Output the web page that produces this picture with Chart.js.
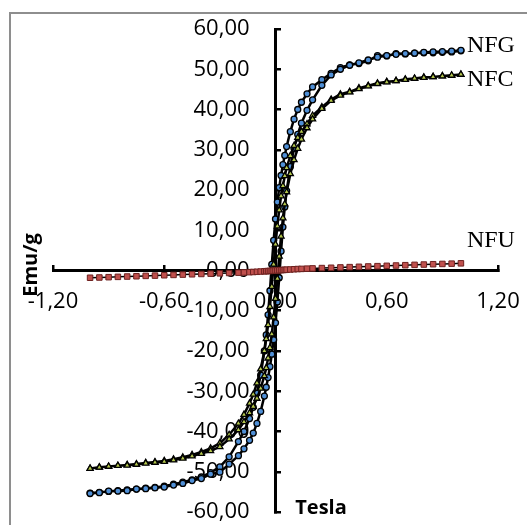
<!DOCTYPE html>
<html>
<head>
<meta charset="utf-8">
<script src="https://cdn.jsdelivr.net/npm/chart.js@4.4.1/dist/chart.umd.min.js"></script>
<style>
  html, body { margin: 0; padding: 0; background: #fff; }
  canvas { display: block; }
</style>
</head>
<body>
<canvas id="myChart" width="527" height="525"></canvas>
<script>
// field (Tesla), descending branch: +1 -> -1
var FieldDown = [1.00, 0.95, 0.90, 0.85, 0.80, 0.75, 0.70, 0.65, 0.60, 0.55, 0.50, 0.45, 0.40, 0.35, 0.30, 0.25, 0.20,
    0.17, 0.14, 0.12, 0.10, 0.08, 0.06, 0.05, 0.04, 0.03, 0.02, 0.01, 0.00,
    -0.01, -0.02, -0.03, -0.04, -0.05, -0.06, -0.08, -0.10, -0.12, -0.14, -0.17,
    -0.20, -0.25, -0.30, -0.35, -0.40, -0.45, -0.50, -0.55, -0.60, -0.65, -0.70, -0.75, -0.80, -0.85, -0.90, -0.95, -1.00];
// ascending branch uses the same fields in reverse order
var FieldUp = FieldDown.slice().reverse();

var NfgDown = [54.6, 54.3, 54.2, 54.1, 54.1, 54.0, 53.8, 53.9, 53.3, 53.4, 52.1, 51.4, 51.1, 50.4, 49.0, 47.4, 45.6,
    43.9, 41.8, 40.0, 37.6, 34.5, 30.8, 28.6, 26.3, 23.6, 20.6, 17.0, 12.8,
    7.5, 1.5, -5.0, -11.0, -16.0, -20.0, -26.0, -30.5, -34.0, -36.8, -40.0,
    -42.5, -46.3, -48.8, -50.2, -51.3, -52.0, -52.6, -53.1, -53.6, -53.9, -54.1, -54.3, -54.5, -54.7, -54.9, -55.1, -55.3];
var NfgUp = [-55.4, -55.2, -54.8, -54.8, -54.7, -54.3, -54.2, -54.0, -53.8, -53.3, -52.9, -52.2, -51.7, -50.6, -50.1, -48.1, -46.0,
    -44.3, -42.2, -40.4, -38.0, -35.0, -31.2, -29.0, -26.6, -23.9, -20.8, -17.2, -13.0,
    -7.8, -1.8, 4.8, 10.8, 15.8, 19.8, 25.8, 30.3, 33.8, 36.6, 39.8,
    42.4, 46.0, 48.6, 50.0, 51.0, 51.6, 52.3, 53.0, 53.4, 53.7, 53.9, 54.0, 54.2, 54.3, 54.4, 54.5, 54.7];

var NfcDown = [48.7, 48.4, 48.3, 48.1, 48.0, 47.7, 47.5, 47.1, 46.9, 46.5, 45.9, 45.3, 44.4, 43.8, 42.5, 40.6, 38.5,
    36.4, 34.5, 33.0, 31.0, 28.5, 25.5, 23.5, 21.0, 18.5, 15.0, 11.0, 6.5,
    1.5, -4.0, -9.0, -13.5, -17.0, -20.0, -24.5, -28.0, -30.8, -33.0, -35.8,
    -38.0, -40.8, -42.9, -44.2, -45.1, -45.8, -46.4, -46.9, -47.3, -47.6, -47.8, -48.1, -48.3, -48.5, -48.7, -48.9, -49.2];
var NfcUp = [-49.2, -48.9, -48.7, -48.5, -48.4, -48.2, -47.9, -47.7, -47.5, -47.1, -46.7, -46.1, -45.5, -44.8, -43.8, -41.9, -39.6,
    -37.6, -35.4, -33.8, -31.8, -29.3, -26.2, -24.2, -21.8, -19.2, -15.8, -11.6, -7.0,
    -2.0, 3.5, 8.5, 13.0, 16.5, 19.5, 24.0, 27.5, 30.3, 32.6, 35.4,
    37.6, 40.2, 42.2, 43.5, 44.3, 45.1, 45.8, 46.4, 46.8, 47.1, 47.4, 47.7, 47.9, 48.1, 48.3, 48.5, 48.7];

// NFU, ascending order (same fields as FieldUp)
var NfuUp = [-1.80, -1.74, -1.66, -1.58, -1.50, -1.43, -1.34, -1.27, -1.18, -1.10, -1.02, -0.94, -0.86, -0.78, -0.70, -0.62, -0.54,
    -0.48, -0.41, -0.37, -0.32, -0.26, -0.20, -0.17, -0.14, -0.10, -0.07, -0.03, 0.00,
    0.03, 0.07, 0.10, 0.13, 0.16, 0.20, 0.25, 0.31, 0.36, 0.40, 0.46,
    0.52, 0.60, 0.68, 0.76, 0.84, 0.92, 1.00, 1.08, 1.16, 1.24, 1.32, 1.40, 1.48, 1.56, 1.63, 1.70, 1.78];

var XTicks = [-1.2, -0.6, 0, 0.6, 1.2];
var YTicks = [-60, -50, -40, -30, -20, -10, 0, 10, 20, 30, 40, 50, 60];

function pairs(xs, ys) {
    return xs.map((x, i) => ({ x: x, y: ys[i] }));
}
function fmt(v) {
    return Number(v).toFixed(2).replace('.', ',');
}

var labelFont = { family: 'Open Sans', size: 22 };

var seriesLabels = {
    id: 'seriesLabels',
    afterDraw(chart) {
        var ctx = chart.ctx;
        var xs = chart.scales.x, ys = chart.scales.y;
        ctx.save();
        // chart frame (only top and left edges show)
        ctx.strokeStyle = '#8e8e8e';
        ctx.lineWidth = 2;
        ctx.beginPath();
        ctx.moveTo(10, 525);
        ctx.lineTo(10, 13);
        ctx.lineTo(527, 13);
        ctx.stroke();

        // axis titles
        ctx.fillStyle = '#000';
        ctx.font = 'bold 20px "Open Sans"';
        ctx.textAlign = 'center';
        ctx.textBaseline = 'middle';
        ctx.fillText('Tesla', 321, 508);
        ctx.save();
        ctx.translate(31, 265);
        ctx.rotate(-Math.PI / 2);
        ctx.fillText('Emu/g', 0, 0);
        ctx.restore();

        // series names next to the last points
        ctx.font = '24px "Liberation Serif"';
        ctx.textAlign = 'left';
        var last = FieldUp.length - 1;
        var x = xs.getPixelForValue(FieldUp[last]) + 6;
        ctx.fillText('NFG', x, ys.getPixelForValue(NfgUp[last]) - 5);
        ctx.fillText('NFC', x, ys.getPixelForValue(NfcUp[last]) + 5);
        ctx.fillText('NFU', x, ys.getPixelForValue(NfuUp[last]) - 23);
        ctx.restore();
    }
};

var ctx = document.getElementById('myChart').getContext('2d');
var myChart = new Chart(ctx, {
    type: 'scatter',
    data: {
        datasets: [{
            label: 'NFU',
            data: pairs(FieldUp, NfuUp),
            showLine: true,
            borderColor: '#000',
            borderWidth: 1.5,
            pointStyle: 'rect',
            pointRadius: 3.9,
            pointBackgroundColor: '#c0504d',
            pointBorderColor: '#6e2220',
            pointBorderWidth: 1
        }, {
            label: 'NFC',
            data: pairs(FieldDown, NfcDown).concat(pairs(FieldUp, NfcUp)),
            showLine: true,
            borderColor: '#000',
            borderWidth: 2.5,
            pointStyle: 'triangle',
            pointRadius: 3.5,
            pointBackgroundColor: '#b5c84e',
            pointBorderColor: '#000',
            pointBorderWidth: 1.3
        }, {
            label: 'NFG',
            data: pairs(FieldDown, NfgDown).concat(pairs(FieldUp, NfgUp)),
            showLine: true,
            borderColor: '#000',
            borderWidth: 2.5,
            pointStyle: 'circle',
            pointRadius: 3,
            pointBackgroundColor: '#4f8fd6',
            pointBorderColor: '#000',
            pointBorderWidth: 1.3
        }]
    },
    options: {
        responsive: false,
        animation: false,
        layout: { padding: { left: 53, right: 29, top: 29, bottom: 13 } },
        plugins: { legend: { display: false }, tooltip: { enabled: false } },
        scales: {
            x: {
                type: 'linear',
                position: { y: 0 },
                min: -1.2,
                max: 1.2,
                afterBuildTicks: s => { s.ticks = XTicks.map(v => ({ value: v })); },
                afterFit: s => { s.height = 0; s.paddingLeft = 0; s.paddingRight = 0; },
                ticks: { autoSkip: false, maxRotation: 0, padding: 25, color: '#000', font: labelFont, callback: v => fmt(v) },
                grid: { drawOnChartArea: false, drawTicks: true, tickLength: -7, color: '#000', lineWidth: 2.5 },
                border: { display: true, color: '#000', width: 3 }
            },
            y: {
                type: 'linear',
                position: { x: 0 },
                min: -60,
                max: 60,
                afterBuildTicks: s => { s.ticks = YTicks.map(v => ({ value: v })); },
                afterFit: s => { s.width = 0; s.paddingTop = 0; s.paddingBottom = 0; },
                ticks: { display: false },
                grid: { drawOnChartArea: false, drawTicks: true, tickLength: -7, color: '#000', lineWidth: 2.5 },
                border: { display: true, color: '#000', width: 3 }
            },
            yl: {
                axis: 'y',
                type: 'linear',
                position: { x: -0.14 },
                min: -60,
                max: 60,
                afterBuildTicks: s => { s.ticks = YTicks.map(v => ({ value: v })); },
                afterFit: s => { s.width = 0; s.paddingTop = 0; s.paddingBottom = 0; },
                ticks: { autoSkip: false, color: '#000', font: labelFont, callback: v => fmt(v) },
                grid: { display: false },
                border: { display: false }
            }
        }
    },
    plugins: [seriesLabels]
});
</script>
</body>
</html>
